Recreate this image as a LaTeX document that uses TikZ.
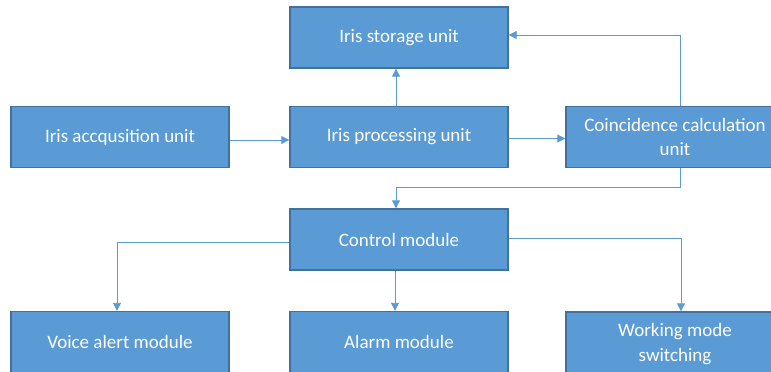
\documentclass[tikz,border=0pt]{standalone}
\usepackage{fontspec}
\setmainfont{Carlito}
\usetikzlibrary{arrows.meta,calc}
\definecolor{boxfill}{HTML}{5B9BD5}
\definecolor{boxline}{HTML}{41719C}
\definecolor{conn}{HTML}{5B9BD5}
\tikzset{
  blk/.style={draw=boxline, line width=1.4pt, fill=boxfill, text=white,
    minimum width=218pt, minimum height=61pt, inner sep=0pt,
    align=center, font=\fontsize{19}{24.5}\selectfont},
  link/.style={draw=conn, line width=0.9pt, -{Triangle[length=8pt,width=8pt]}}
}
\begin{document}
\begin{tikzpicture}[x=1pt,y=-1pt]
\useasboundingbox (0,0) rectangle (771,372);
\clip (0,0) rectangle (771,372);
\fill[white] (0,0) rectangle (771,372);
\node[blk] (storage) at (399,37.5) {Iris storage unit};
\node[blk] (acq) at (120,137) {Iris accqusition unit};
\node[blk] (proc) at (399,137) {Iris processing unit};
\node[blk] (coinc) at (675,137) {Coincidence calculation\\unit};
\node[blk] (control) at (399,239.5) {Control module};
\node[blk] (voice) at (120,342) {Voice alert module};
\node[blk] (alarm) at (399,342) {Alarm module};
\node[blk, minimum height=64pt] (work) at (675,344) {Working mode\\switching};

\draw[link] ([xshift=-3pt]proc.north) -- ([xshift=-3pt]storage.south);
\draw[link] ([yshift=-3pt]acq.east) -- ([yshift=-3pt]proc.west);
\draw[link] ([yshift=-1.5pt]proc.east) -- ([yshift=-1.5pt]coinc.west);
\draw[link] ([xshift=5pt]coinc.north) |- ([yshift=2.5pt]storage.east);
\draw[link] ([xshift=5pt]coinc.south) -- ++(0,19) -| ([xshift=-3pt]control.north);
\draw[link] ([yshift=-2.5pt]control.west) -| ([xshift=-3pt]voice.north);
\draw[link] ([xshift=-4pt]control.south) -- ([xshift=-4pt]alarm.north);
\draw[link] ([yshift=1.5pt]control.east) -| ([xshift=6pt]work.north);
\end{tikzpicture}
\end{document}
